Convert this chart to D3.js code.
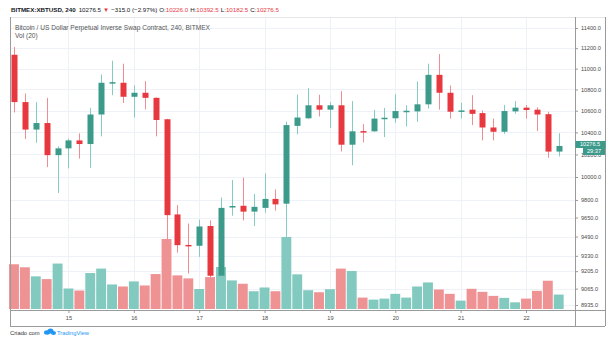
<!DOCTYPE html>
<html><head><meta charset="utf-8">
<script src="https://cdn.jsdelivr.net/npm/d3@7"></script>
<style>html,body{margin:0;padding:0;background:#fff;}svg{display:block;}</style>
</head><body><svg id="c" width="608" height="339"></svg>
<script>
const startTime = "2019-07-14T04:00:00Z";
const endTime = "2019-07-22T12:00:00Z";
const open  = [11135,10681,10426,10486,10194,10255,10327,10294,10565,10862,10864,10731,10769,10721,10521,9676,9420,9413,9578,9168,9738,9750,9700,9732,9809,9768,10460,10530,10651,10610,10651,10288,10412,10410,10528,10530,10594,10594,10660,10940,10769,10597,10610,10578,10445,10406,10594,10629,10610,10568,10226];
const high  = [11211,10762,10681,10721,10273,10343,10391,10626,10943,11077,11048,10841,10879,10725,10525,9756,9599,9632,9625,9821,9973,9994,9852,10032,9891,10498,10752,10812,10750,10681,10784,10690,10476,10607,10626,10755,10651,10876,11048,11142,10838,10674,10746,10603,10527,10654,10690,10654,10632,10591,10392.5];
const low   = [10584,10339,10306,10087,9861,10076,10163,10081,10364,10746,10672,10537,10612,10364,9432,9356,9186,9321,9089,9118,9665,9625,9578,9691,9709,9266,10382,10525,10547,10441,10227,10104,10309,10405,10357,10489,10455,10498,10621,10610,10527,10527,10467,10327,10327,10385,10571,10527,10412,10170,10182.5];
const close = [10681,10426,10486,10194,10255,10327,10294,10565,10864,10870,10731,10769,10721,10514,9670,9418,9412,9574,9168,9732,9748,9700,9741,9809,9762,10467,10537,10651,10610,10651,10288,10410,10405,10527,10535,10597,10600,10660,10940,10769,10591,10603,10571,10445,10406,10597,10629,10607,10565,10226,10276.5];
const volume = [443,413,323,296,450,203,183,356,400,243,223,273,233,346,693,333,303,198,316,416,283,250,176,213,176,713,343,186,166,196,400,376,113,93,103,150,113,223,263,193,150,83,200,170,130,110,66,103,180,280,143];
const priceTicks = [8935,9065,9205,9330,9490,9650,9800,10000,10200,10400,10600,10800,11000,11200,11400];
const dayTicks = ["2019-07-15","2019-07-16","2019-07-17","2019-07-18","2019-07-19","2019-07-20","2019-07-21","2019-07-22"];
const header = {sym:"BITMEX:XBTUSD, 240", last:"10276.5", chg:"\u2212315.0 (\u22122.97%)", o:"10226.0", h:"10392.5", l:"10182.5", c:"10276.5"};
const title = "Bitcoin / US Dollar Perpetual Inverse Swap Contract, 240, BITMEX";
const volTitle = "Vol (20)";
const countdown = "29:37";

const times = d3.utcHour.every(4).range(new Date(startTime), d3.utcHour.offset(new Date(endTime),1));
const data = times.map((t,i)=>({t, o:open[i], h:high[i], l:low[i], c:close[i], v:volume[i]}));

const svg = d3.select("#c");
const FONT = "'Liberation Sans', Arial, sans-serif";
const L = 10, R = 575, RB = 605, T = 17, B = 310, AXB = 326;

const x = d3.scaleUtc().domain([new Date(startTime), new Date(endTime)]).range([14, 558.7]);
const y = d3.scaleLog().domain([8896, 11511]).range([B, T]);
const yv = d3.scaleLinear().domain([0, d3.max(volume)]).range([309, 237]);

const upBody = "#3c9a8b", dnBody = "#e8383f", upWick = "#83ccc2", dnWick = "#f08d92";
const upVol = "#82c9c0", dnVol = "#ef9294";

// grid
const g = svg.append("g");
g.selectAll("line.h").data(priceTicks).join("line")
  .attr("x1", L).attr("x2", R).attr("y1", d=>Math.round(y(d))+0.5).attr("y2", d=>Math.round(y(d))+0.5)
  .attr("stroke", "#eef1f7").attr("stroke-width", 1);
const days = dayTicks.map(d=>new Date(d+"T00:00:00Z"));
g.selectAll("line.v").data(days).join("line")
  .attr("x1", d=>Math.round(x(d))+0.5).attr("x2", d=>Math.round(x(d))+0.5).attr("y1", T).attr("y2", B)
  .attr("stroke", "#eef1f7").attr("stroke-width", 1);

// volume
const bw = x(times[1]) - x(times[0]);
svg.append("g").selectAll("rect").data(data).join("rect")
  .attr("x", d=>x(d.t)-bw/2+0.5).attr("width", bw-1)
  .attr("y", d=>yv(d.v)).attr("height", d=>yv(0)-yv(d.v))
  .attr("fill", d=>d.c>=d.o?upVol:dnVol);

// candles
const cg = svg.append("g");
cg.selectAll("line").data(data).join("line")
  .attr("x1", d=>Math.round(x(d.t))+0.5).attr("x2", d=>Math.round(x(d.t))+0.5)
  .attr("y1", d=>y(d.h)).attr("y2", d=>y(d.l))
  .attr("stroke", d=>d.c>=d.o?upWick:dnWick).attr("stroke-width", 1);
cg.selectAll("rect").data(data).join("rect")
  .attr("x", d=>Math.round(x(d.t))-2.5).attr("width", 6)
  .attr("y", d=>y(Math.max(d.o,d.c)))
  .attr("height", d=>Math.max(1.5, y(Math.min(d.o,d.c))-y(Math.max(d.o,d.c))))
  .attr("fill", d=>d.c>=d.o?upBody:dnBody);

// frame
const fr = svg.append("g").attr("fill","none");
fr.append("line").attr("x1",L).attr("x2",RB).attr("y1",T+0.5).attr("y2",T+0.5).attr("stroke","#e4e6ea");
fr.append("line").attr("x1",L+0.5).attr("x2",L+0.5).attr("y1",T).attr("y2",AXB).attr("stroke","#9a9a9a");
fr.append("line").attr("x1",R+0.5).attr("x2",R+0.5).attr("y1",T).attr("y2",AXB).attr("stroke","#9a9a9a");
fr.append("line").attr("x1",RB+0.5).attr("x2",RB+0.5).attr("y1",T).attr("y2",AXB).attr("stroke","#9a9a9a");
fr.append("line").attr("x1",L).attr("x2",RB).attr("y1",B+0.5).attr("y2",B+0.5).attr("stroke","#9a9a9a");
fr.append("line").attr("x1",L).attr("x2",RB).attr("y1",AXB+0.5).attr("y2",AXB+0.5).attr("stroke","#9a9a9a");

// price axis
const ya = svg.append("g").attr("transform",`translate(${R},0)`)
  .call(d3.axisRight(y).tickValues(priceTicks).tickFormat(d3.format(".1f")).tickSize(3).tickPadding(3));
ya.select(".domain").remove();
ya.selectAll("line").attr("stroke","#9a9a9a");
ya.selectAll("text").attr("font-family",FONT).attr("font-size",5.6).attr("fill","#4a4a4a");

// time axis
const xa = svg.append("g").attr("transform",`translate(0,${B})`)
  .call(d3.axisBottom(x).tickValues(days).tickFormat(d3.utcFormat("%-d")).tickSize(3).tickPadding(3));
xa.select(".domain").remove();
xa.selectAll("line").attr("stroke","#9a9a9a");
xa.selectAll("text").attr("font-family",FONT).attr("font-size",5.6).attr("fill","#4a4a4a");

// price tags
const last = data[data.length-1];
const ty = y(last.c) - 1.5;
svg.append("rect").attr("x",R+0.5).attr("y",ty-3.5).attr("width",RB-R).attr("height",7).attr("fill",upBody);
svg.append("text").attr("x",R+5).attr("y",ty+2).attr("font-family",FONT).attr("font-size",5.6).attr("fill","#fff").text(d3.format(".1f")(last.c));
svg.append("rect").attr("x",583).attr("y",ty+3.5).attr("width",RB-583).attr("height",7).attr("fill",upBody);
svg.append("text").attr("x",587).attr("y",ty+9).attr("font-family",FONT).attr("font-size",5.6).attr("fill","#fff").text(countdown);

// header
const h = svg.append("text").attr("x",11).attr("y",12).attr("font-family",FONT).attr("font-size",6.2).attr("fill","#131722");
h.append("tspan").attr("font-weight","bold").text(header.sym);
h.append("tspan").attr("dx",3).text(header.last);
h.append("tspan").attr("dx",2).attr("fill",dnBody).text("\u25BC");
h.append("tspan").attr("dx",2).text(header.chg);
h.append("tspan").attr("dx",2).text("O:");
h.append("tspan").attr("fill",dnBody).text(header.o);
h.append("tspan").attr("dx",2).text("H:");
h.append("tspan").attr("fill",dnBody).text(header.h);
h.append("tspan").attr("dx",2).text("L:");
h.append("tspan").attr("fill",dnBody).text(header.l);
h.append("tspan").attr("dx",2).text("C:");
h.append("tspan").attr("fill",dnBody).text(header.c);

svg.append("text").attr("x",15).attr("y",29.5).attr("font-family",FONT).attr("font-size",6.6).attr("fill","#555").text(title);
svg.append("text").attr("x",15).attr("y",37.5).attr("font-family",FONT).attr("font-size",6.6).attr("fill","#555").text(volTitle);

// credit
const cr = svg.append("g");
cr.append("text").attr("x",10).attr("y",335).attr("font-family",FONT).attr("font-size",5.8).attr("fill","#333").text("Criado com");
const lg = cr.append("g").attr("fill","#2196f3");
lg.append("ellipse").attr("cx",47).attr("cy",332.5).attr("rx",3).attr("ry",2.2);
lg.append("ellipse").attr("cx",50.5).attr("cy",331).attr("rx",3).attr("ry",2.6);
lg.append("ellipse").attr("cx",53.5).attr("cy",333).attr("rx",2.5).attr("ry",2);
cr.append("text").attr("x",57).attr("y",335).attr("font-family",FONT).attr("font-size",5.8).attr("fill","#2196f3").text("TradingView");
</script></body></html>
